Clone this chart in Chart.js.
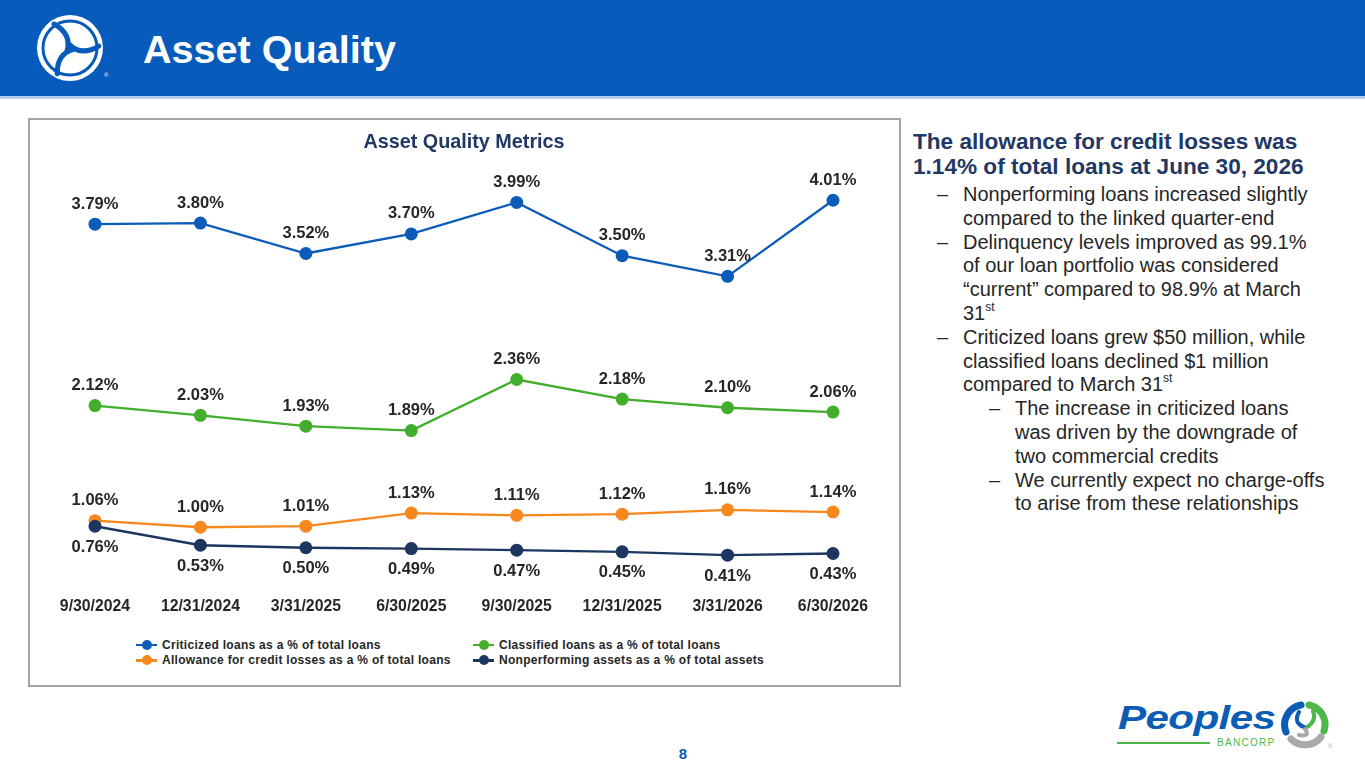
<!DOCTYPE html>
<html>
<head>
<meta charset="utf-8">
<script src="https://cdn.jsdelivr.net/npm/chart.js"></script>
<style>
  html, body { margin:0; padding:0; background:#fff; }
  body { width:1365px; height:768px; position:relative; overflow:hidden; font-family:"Liberation Sans", Arial, sans-serif; }
  #hdr { position:absolute; left:0; top:0; width:1365px; height:96px; background:#075bbb; }
  #hdrline { position:absolute; left:0; top:96px; width:1365px; height:3px; background:#b3cfee; }
  #hdrTitle { position:absolute; left:143px; top:30px; font-size:39.6px; line-height:39px; font-weight:bold; color:#fff; white-space:nowrap; }
  #box { position:absolute; left:28px; top:118px; width:873px; height:569px; box-sizing:border-box; border:2px solid #a3a3a3; }
  #wrap { position:absolute; left:31px; top:121px; width:866px; height:504px; }
  #legend { position:absolute; left:136px; top:637px; display:grid; grid-template-columns:337px auto; grid-auto-rows:15.5px; font-size:12px; letter-spacing:0.3px; font-weight:bold; color:#262626; }
  .li { display:flex; align-items:center; white-space:nowrap; }
  .mk { position:relative; width:21px; height:10px; margin-right:5px; flex:none; }
  .mk .ln { position:absolute; left:0; top:4px; width:21px; height:2.5px; }
  .mk .dt { position:absolute; left:5.5px; top:0; width:10px; height:10px; border-radius:50%; }
  #side { position:absolute; left:913px; top:0; width:440px; color:#262626; }
  #head { position:absolute; left:0; top:130px; font-size:22.6px; line-height:24.5px; font-weight:bold; color:#1f3864; white-space:nowrap; }
  #bul { position:absolute; left:0; top:183px; font-size:20px; line-height:23.8px; white-space:nowrap; }
  .b1 { position:relative; padding-left:50px; }
  .b2 { position:relative; padding-left:102px; }
  .b1 .d { position:absolute; left:24px; top:0; }
  .b2 .d { position:absolute; left:76px; top:0; }
  sup { font-size:12px; line-height:0; vertical-align:9px; }
  #pg { position:absolute; left:670px; top:745px; width:26px; text-align:center; font-size:15px; line-height:18px; font-weight:bold; color:#0b5cb5; }
  #ppl { position:absolute; left:1118px; top:700px; font-size:34px; line-height:34px; font-weight:bold; font-style:italic; color:#0b5cb5; transform:scaleX(1.24); transform-origin:left top; white-space:nowrap; letter-spacing:-0.5px; }
  #gline { position:absolute; left:1117px; top:742px; width:93px; height:2px; background:#4db848; }
  #banc { position:absolute; left:1217px; top:736px; font-size:10px; line-height:14px; letter-spacing:1.3px; color:#4db848; white-space:nowrap; }
</style>
</head>
<body>
<div id="hdr"></div>
<div id="hdrline"></div>
<svg style="position:absolute;left:36px;top:13px" width="76" height="72" viewBox="0 0 76 72">
  <circle cx="34" cy="35" r="33" fill="#fff"/>
  <g transform="translate(34,35)" fill="none" stroke="#075bbb" stroke-width="5" stroke-linecap="round">
    <path d="M -3 3 Q 2 -14 -16 -24"/>
    <path d="M -3 3 Q 2 -14 -16 -24" transform="rotate(120)"/>
    <path d="M -3 3 Q 2 -14 -16 -24" transform="rotate(240)"/>
    <circle cx="0" cy="0" r="27" stroke-width="3"/>
  </g>
  <text x="68" y="64" font-size="6" fill="#fff">®</text>
</svg>
<div id="hdrTitle">Asset Quality</div>

<div id="box"></div>
<div id="wrap"><canvas id="c"></canvas></div>
<div id="legend"></div>

<div id="side">
  <div id="head">The allowance for credit losses was<br>1.14% of total loans at June 30, 2026</div>
  <div id="bul">
    <div class="b1"><span class="d">–</span>Nonperforming loans increased slightly<br>compared to the linked quarter-end</div>
    <div class="b1"><span class="d">–</span>Delinquency levels improved as 99.1%<br>of our loan portfolio was considered<br>“current” compared to 98.9% at March<br>31<sup>st</sup></div>
    <div class="b1"><span class="d">–</span>Criticized loans grew $50 million, while<br>classified loans declined $1 million<br>compared to March 31<sup>st</sup></div>
    <div class="b2"><span class="d">–</span>The increase in criticized loans<br>was driven by the downgrade of<br>two commercial credits</div>
    <div class="b2"><span class="d">–</span>We currently expect no charge-offs<br>to arise from these relationships</div>
  </div>
</div>

<div id="pg">8</div>
<div id="ppl">Peoples</div>
<div id="gline"></div>
<div id="banc">BANCORP</div>
<svg style="position:absolute;left:1280px;top:700px" width="56" height="52" viewBox="0 0 56 52">
  <g transform="translate(25,25)" fill="none" stroke-width="7" stroke-linecap="round">
    <path d="M 4 -20 A 20 20 0 0 1 19 6" stroke="#4db848"/>
    <path d="M 16 12 A 20 20 0 0 1 -14 14" stroke="#a7a9ac"/>
    <path d="M -19 7 A 20 20 0 0 1 -4 -20" stroke="#0b5cb5"/>
    <path d="M 2 2 Q 12 -4 8 -14" stroke="#4db848" stroke-width="4"/>
    <path d="M -1 2 Q -12 -2 -6 -13" stroke="#0b5cb5" stroke-width="4"/>
    <path d="M 0 4 Q 6 12 -6 10" stroke="#a7a9ac" stroke-width="4"/>
  </g>
  <text x="48" y="48" font-size="6" fill="#a7a9ac">®</text>
</svg>

<script>
// ---- data ----
const categories = ["9/30/2024","12/31/2024","3/31/2025","6/30/2025","9/30/2025","12/31/2025","3/31/2026","6/30/2026"];
const criticizedLoans = [3.79, 3.80, 3.52, 3.70, 3.99, 3.50, 3.31, 4.01];
const classifiedLoans = [2.12, 2.03, 1.93, 1.89, 2.36, 2.18, 2.10, 2.06];
const allowanceCredit = [1.06, 1.00, 1.01, 1.13, 1.11, 1.12, 1.16, 1.14];
const nonperformingAssets = [0.76, 0.53, 0.50, 0.49, 0.47, 0.45, 0.41, 0.43];
const seriesNames = [
  "Criticized loans as a % of total loans",
  "Classified loans as a % of total loans",
  "Allowance for credit losses as a % of total loans",
  "Nonperforming assets as a % of total assets"
];

const FONT = "'Liberation Sans', Arial, sans-serif";
Chart.defaults.font.family = FONT;

function ds(label, data, color, pos, axis, order) {
  return {
    label, data, borderColor: color, backgroundColor: color,
    pointBackgroundColor: color, pointBorderColor: color, pointBorderWidth: 0,
    pointRadius: 6.5, pointHoverRadius: 6.5, borderWidth: 2.3, tension: 0,
    yAxisID: axis, order, labelPos: pos
  };
}

const labelPlugin = {
  id: 'valueLabels',
  afterDatasetsDraw(chart) {
    const ctx = chart.ctx;
    ctx.save();
    ctx.font = "bold 16.5px " + FONT;
    ctx.fillStyle = "#262626";
    ctx.textAlign = "center";
    ctx.textBaseline = "middle";
    chart.data.datasets.forEach((d, i) => {
      const meta = chart.getDatasetMeta(i);
      meta.data.forEach((pt, j) => {
        const off = d.labelPos === 'below' ? 21 : -20;
        ctx.fillText(d.data[j].toFixed(2) + "%", pt.x, pt.y + off);
      });
    });
    ctx.restore();
  }
};

const chart = new Chart(document.getElementById('c'), {
  type: 'line',
  data: {
    labels: categories,
    datasets: [
      ds(seriesNames[0], criticizedLoans, "#0b5cb9", 'above', 'y', 3),
      ds(seriesNames[1], classifiedLoans, "#42ae2c", 'above', 'y', 2),
      ds(seriesNames[2], allowanceCredit, "#f8881e", 'above', 'y', 1),
      ds(seriesNames[3], nonperformingAssets, "#1d365f", 'below', 'y2', 0)
    ]
  },
  options: {
    responsive: true, maintainAspectRatio: false, animation: false,
    layout: { padding: { left: 11.3, right: 11.3, top: 0, bottom: 1 } },
    plugins: {
      legend: { display: false },
      tooltip: { enabled: false },
      title: {
        display: true, text: "Asset Quality Metrics", color: "#1f3864",
        font: { size: 19.8, weight: 'bold' }, padding: { top: 10.1, bottom: 10 }
      }
    },
    scales: {
      x: {
        offset: true,
        grid: { display: false, drawTicks: false }, border: { display: false },
        ticks: { color: "#262626", font: { size: 15.8, weight: 'bold' }, padding: 8, maxRotation: 0, autoSkip: false }
      },
      y: { display: false, min: 0.431, max: 4.336 },
      y2: { display: false, min: 0, max: 5.134, position: 'right' }
    }
  },
  plugins: [labelPlugin]
});

// HTML legend built from the chart's own legend items
const items = chart.options.plugins.legend.labels.generateLabels(chart)
  .sort((a, b) => a.datasetIndex - b.datasetIndex);
const legendEl = document.getElementById('legend');
items.forEach(it => {
  const el = document.createElement('div');
  el.className = 'li';
  const mk = document.createElement('span');
  mk.className = 'mk';
  mk.innerHTML = '<span class="ln" style="background:' + it.strokeStyle + '"></span><span class="dt" style="background:' + it.fillStyle + '"></span>';
  el.appendChild(mk);
  el.appendChild(document.createTextNode(it.text));
  legendEl.appendChild(el);
});
</script>
</body>
</html>
